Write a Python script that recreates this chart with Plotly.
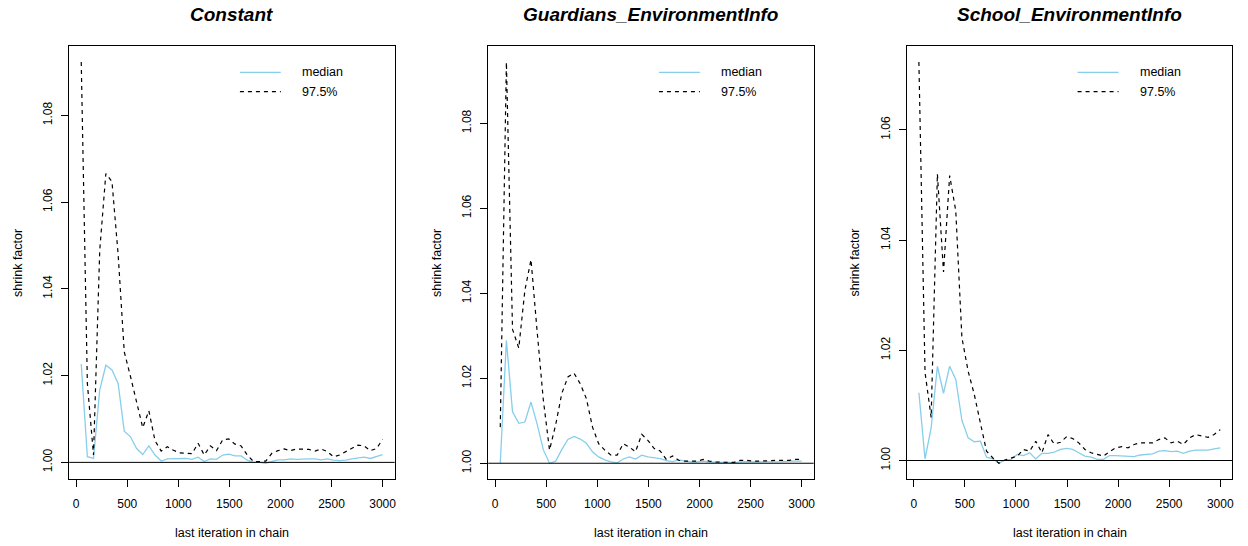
import plotly.graph_objects as go

# Gelman-Rubin shrink factor diagnostics for three parameters
panel_titles = ["Constant", "Guardians_EnvironmentInfo", "School_EnvironmentInfo"]

iterations = [50, 110, 170, 231, 291, 351, 411, 471, 532, 592,
              652, 712, 772, 833, 893, 953, 1013, 1073, 1134, 1194,
              1254, 1314, 1374, 1435, 1495, 1555, 1615, 1675, 1736, 1796,
              1856, 1916, 1976, 2037, 2097, 2157, 2217, 2278, 2338, 2398,
              2458, 2518, 2579, 2639, 2699, 2759, 2819, 2880, 2940, 3000]

median_constant = [1.0227, 1.0013, 1.0009, 1.0167, 1.0224, 1.0213, 1.0182, 1.0072, 1.0059, 1.0032,
                   1.0018, 1.0038, 1.0017, 1.0003, 1.0008, 1.0008, 1.0008, 1.0009, 1.0007, 1.0012,
                   1.0002, 1.0008, 1.0007, 1.0017, 1.0019, 1.0015, 1.0015, 1.0005, 1.0000, 1.0000,
                   0.9998, 1.0002, 1.0006, 1.0006, 1.0008, 1.0007, 1.0008, 1.0008, 1.0008, 1.0006,
                   1.0008, 1.0005, 1.0004, 1.0005, 1.0008, 1.0010, 1.0012, 1.0009, 1.0013, 1.0018]
upper_constant = [1.0923, 1.0182, 1.0017, 1.0489, 1.0666, 1.0647, 1.0480, 1.0255, 1.0198, 1.0140,
                  1.0080, 1.0119, 1.0050, 1.0026, 1.0036, 1.0028, 1.0022, 1.0021, 1.0020, 1.0044,
                  1.0017, 1.0038, 1.0027, 1.0052, 1.0054, 1.0042, 1.0038, 1.0017, 1.0002, 1.0002,
                  1.0003, 1.0021, 1.0027, 1.0031, 1.0027, 1.0031, 1.0031, 1.0030, 1.0026, 1.0031,
                  1.0025, 1.0013, 1.0017, 1.0025, 1.0032, 1.0040, 1.0038, 1.0027, 1.0032, 1.0053]

median_guardians = [1.0000, 1.0289, 1.0121, 1.0094, 1.0097, 1.0144, 1.0092, 1.0032, 1.0000, 1.0005,
                    1.0032, 1.0056, 1.0063, 1.0057, 1.0047, 1.0027, 1.0015, 1.0008, 1.0003, 1.0001,
                    1.0010, 1.0015, 1.0010, 1.0019, 1.0015, 1.0013, 1.0011, 1.0006, 1.0004, 1.0008,
                    1.0005, 1.0003, 1.0003, 1.0005, 1.0003, 1.0002, 1.0002, 1.0002, 1.0001, 1.0003,
                    1.0004, 1.0003, 1.0003, 1.0003, 1.0004, 1.0004, 1.0004, 1.0005, 1.0005, 1.0005]
upper_guardians = [1.0085, 1.0944, 1.0315, 1.0271, 1.0407, 1.0479, 1.0310, 1.0150, 1.0031, 1.0090,
                   1.0164, 1.0203, 1.0212, 1.0187, 1.0152, 1.0085, 1.0046, 1.0031, 1.0019, 1.0019,
                   1.0046, 1.0038, 1.0027, 1.0068, 1.0054, 1.0035, 1.0029, 1.0009, 1.0017, 1.0007,
                   1.0005, 1.0005, 1.0005, 1.0009, 1.0005, 1.0003, 1.0002, 1.0002, 1.0002, 1.0007,
                   1.0007, 1.0005, 1.0005, 1.0005, 1.0006, 1.0007, 1.0007, 1.0007, 1.0009, 1.0009]

median_school = [1.0123, 1.0003, 1.0059, 1.0171, 1.0122, 1.0171, 1.0147, 1.0073, 1.0041, 1.0034,
                 1.0035, 1.0006, 1.0003, 0.9995, 1.0001, 1.0002, 1.0011, 1.0009, 1.0014, 1.0003,
                 1.0013, 1.0013, 1.0015, 1.0020, 1.0022, 1.0020, 1.0014, 1.0008, 1.0006, 1.0002,
                 1.0002, 1.0009, 1.0009, 1.0008, 1.0007, 1.0007, 1.0010, 1.0011, 1.0012, 1.0017,
                 1.0018, 1.0016, 1.0017, 1.0013, 1.0017, 1.0019, 1.0019, 1.0019, 1.0021, 1.0023]
upper_school = [1.0723, 1.0160, 1.0078, 1.0520, 1.0342, 1.0517, 1.0453, 1.0223, 1.0162, 1.0120,
                1.0068, 1.0017, 1.0005, 0.9995, 1.0001, 1.0005, 1.0008, 1.0020, 1.0017, 1.0035,
                1.0014, 1.0047, 1.0030, 1.0033, 1.0043, 1.0040, 1.0032, 1.0020, 1.0014, 1.0011,
                1.0008, 1.0016, 1.0023, 1.0025, 1.0023, 1.0029, 1.0032, 1.0032, 1.0032, 1.0038,
                1.0041, 1.0032, 1.0035, 1.0029, 1.0041, 1.0047, 1.0044, 1.0042, 1.0047, 1.0056]

medians = [median_constant, median_guardians, median_school]
uppers = [upper_constant, upper_guardians, upper_school]

x_ticks = [0, 500, 1000, 1500, 2000, 2500, 3000]
legend_labels = ["median", "97.5%"]

# page geometry (pixels)
W, H = 1248, 546
box_left = [69.3, 489.0, 908.3]
box_width = 326.0
box_top, box_bottom = 46.0, 479.3

FONT = "Liberation Sans, Arial, Helvetica, sans-serif"
MEDIAN_COLOR = "#87CEEB"
DASH = "4px,4px"


def px_x(p):
    return p / W


def px_y(p):
    return 1 - p / H


fig = go.Figure()
shapes = []
annotations = []

for k in range(3):
    sfx = "" if k == 0 else str(k + 1)
    xname, yname = "x" + sfx, "y" + sfx

    fig.add_trace(go.Scatter(
        x=iterations, y=medians[k], mode="lines", name=legend_labels[0],
        line=dict(color=MEDIAN_COLOR, width=1.3),
        xaxis=xname, yaxis=yname, showlegend=False, hoverinfo="x+y"))
    fig.add_trace(go.Scatter(
        x=iterations, y=uppers[k], mode="lines", name=legend_labels[1],
        line=dict(color="black", width=1.2, dash=DASH),
        xaxis=xname, yaxis=yname, showlegend=False, hoverinfo="x+y"))

    # axis ranges padded by 4% of the data span
    lo = min(min(medians[k]), min(uppers[k]), 1.0)
    hi = max(max(medians[k]), max(uppers[k]))
    pad = 0.04 * (hi - lo)
    xlo, xhi = min(iterations), max(iterations)
    xpad = 0.04 * (xhi - xlo)

    x0, x1 = box_left[k], box_left[k] + box_width
    axis_common = dict(
        showline=True, mirror=True, linecolor="black", linewidth=1,
        ticks="outside", ticklen=7, tickwidth=1, tickcolor="black",
        showgrid=False, zeroline=False,
        tickfont=dict(family=FONT, size=12, color="black"),
    )
    fig.update_layout(**{
        "xaxis" + sfx: dict(
            domain=[px_x(x0), px_x(x1)], anchor=yname,
            range=[xlo - xpad, xhi + xpad], tickvals=x_ticks,
            ticklabelstandoff=6, **axis_common),
        "yaxis" + sfx: dict(
            domain=[px_y(box_bottom), px_y(box_top)], anchor=xname,
            range=[lo - pad, hi + pad], dtick=0.02, tick0=1.0,
            tickformat=".2f", tickangle=-90, ticklabelstandoff=4,
            **axis_common),
    })

    # reference line at a shrink factor of 1
    shapes.append(dict(type="line", xref=xname + " domain", yref=yname,
                       x0=0, x1=1, y0=1.0, y1=1.0,
                       line=dict(color="black", width=1)))

    # panel title
    annotations.append(dict(
        text="<b><i>" + panel_titles[k] + "</i></b>", x=px_x((x0 + x1) / 2), y=px_y(14),
        xref="paper", yref="paper", xanchor="center", yanchor="middle",
        showarrow=False, font=dict(family=FONT, size=19, color="black")))
    # axis titles
    annotations.append(dict(
        text="last iteration in chain", x=px_x((x0 + x1) / 2), y=px_y(532.5),
        xref="paper", yref="paper", xanchor="center", yanchor="middle",
        showarrow=False, font=dict(family=FONT, size=12.5, color="black")))
    annotations.append(dict(
        text="shrink factor", x=px_x(x0 - 52), y=px_y((box_top + box_bottom) / 2),
        xref="paper", yref="paper", xanchor="center", yanchor="middle",
        textangle=-90, showarrow=False,
        font=dict(family=FONT, size=12.5, color="black")))

    # legend: line samples and labels
    lx0, lx1, tx = x0 + 171, x0 + 212, x0 + 231.5
    for j, (ly, col, dash) in enumerate([(72.3, MEDIAN_COLOR, "solid"), (91.7, "black", DASH)]):
        shapes.append(dict(type="line", xref="paper", yref="paper",
                           x0=px_x(lx0), x1=px_x(lx1), y0=px_y(ly), y1=px_y(ly),
                           line=dict(color=col, width=1.3 if j == 0 else 1.2, dash=dash)))
        annotations.append(dict(
            text=legend_labels[j], x=px_x(tx), y=px_y(ly),
            xref="paper", yref="paper", xanchor="left", yanchor="middle",
            showarrow=False, font=dict(family=FONT, size=12.5, color="black")))

fig.update_layout(
    width=W, height=H,
    margin=dict(l=0, r=0, t=0, b=0),
    paper_bgcolor="white", plot_bgcolor="white",
    shapes=shapes, annotations=annotations,
    showlegend=False,
)

fig.write_html("out.html")
